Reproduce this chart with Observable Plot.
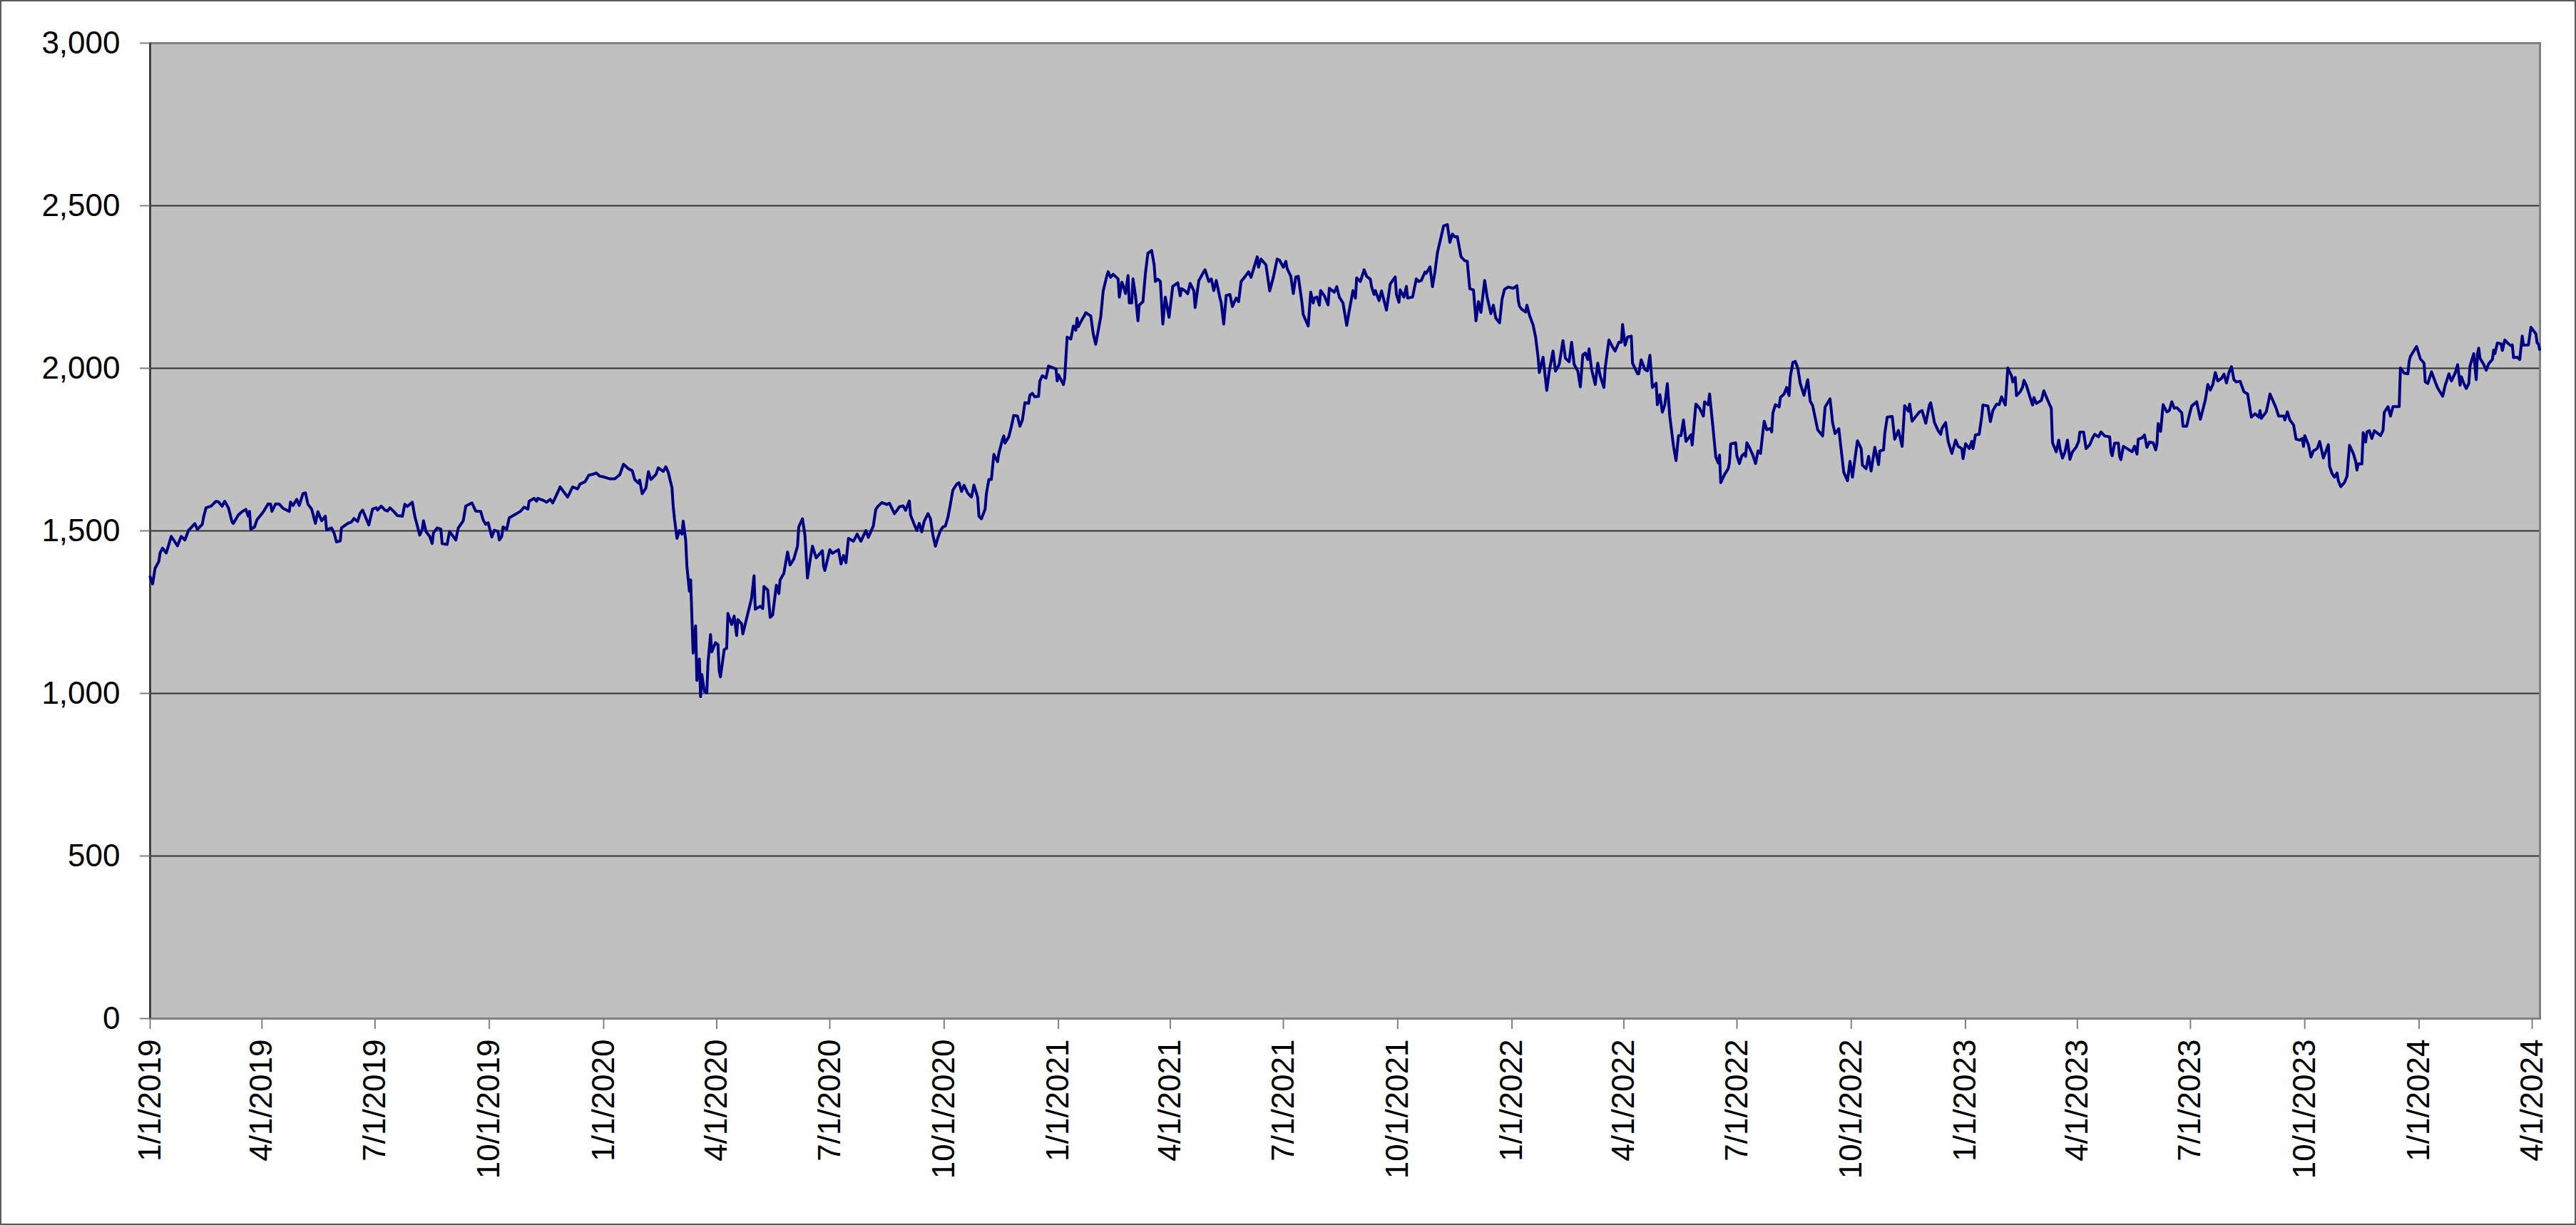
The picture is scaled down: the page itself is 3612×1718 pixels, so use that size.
<!DOCTYPE html>
<html>
<head>
<meta charset="utf-8">
<script src="https://cdn.jsdelivr.net/npm/d3@7"></script>
<script src="https://cdn.jsdelivr.net/npm/@observablehq/plot@0.6"></script>
<style>
  html, body { margin: 0; padding: 0; background: white; }
  #chart svg { display: block; outline: 2px solid #5a5a5a; outline-offset: -2px; }
</style>
</head>
<body>
<div id="chart"></div>
<script>
// [day offset from 2019-01-01, index value]
const series2019 = [[0,1359],[2,1337],[4,1385],[7,1406],[8,1432],[10,1447],[13,1432],[17,1483],[22,1454],[25,1483],[28,1472],[31,1502],[36,1522],[38,1505],[42,1520],[43,1542],[45,1571],[49,1576],[53,1591],[55,1589],[58,1576],[60,1591],[63,1571],[66,1527],[67,1523],[71,1549],[74,1559],[77,1566],[79,1545],[80,1560],[81,1505],[84,1512],[86,1534],[90,1553],[92,1564],[95,1583],[97,1582],[98,1560],[101,1583],[104,1582],[107,1569],[112,1560],[113,1589],[115,1578],[118,1597],[120,1578],[123,1615],[125,1617],[127,1582],[130,1567],[133,1523],[135,1559],[138,1531],[141,1545],[142,1503],[146,1509],[148,1494],[150,1466],[153,1469],[154,1509],[159,1523],[162,1527],[164,1538],[167,1529],[169,1554],[171,1564],[176,1518],[179,1567],[182,1571],[183,1564],[186,1576],[189,1564],[191,1561],[193,1571],[196,1560],[199,1547],[203,1545],[205,1582],[207,1575],[211,1588],[213,1545],[217,1487],[219,1505],[220,1531],[222,1498],[225,1483],[227,1461],[228,1494],[231,1509],[234,1505],[235,1461],[239,1458],[241,1498],[246,1472],[248,1509],[252,1531],[254,1576],[259,1586],[262,1561],[266,1560],[268,1534],[270,1520],[272,1525],[275,1481],[277,1502],[280,1498],[281,1472],[283,1483],[284,1512],[287,1505],[289,1540],[294,1551],[298,1560],[301,1573],[304,1567],[305,1591],[309,1600],[311,1591],[312,1600],[317,1593],[319,1588],[322,1597],[324,1586],[328,1618],[330,1635],[336,1604],[340,1635],[344,1629],[346,1644],[350,1651],[353,1671],[357,1675],[359,1678],[362,1668]];
const series2020 = [[365,1666],[370,1660],[374,1660],[378,1673],[381,1705],[385,1691],[388,1685],[390,1658],[393,1647],[394,1656],[396,1614],[399,1632],[401,1682],[403,1658],[407,1673],[409,1694],[413,1683],[415,1697],[417,1680],[420,1632],[421,1574],[422,1537],[424,1477],[426,1501],[428,1490],[429,1530],[431,1472],[432,1391],[434,1314],[435,1349],[437,1124],[439,1208],[440,1040],[442,1106],[443,990],[444,1058],[446,1007],[448,1002],[449,1095],[451,1181],[452,1128],[455,1156],[457,1150],[458,1069],[459,1051],[462,1135],[464,1139],[465,1246],[468,1212],[470,1238],[472,1178],[473,1227],[476,1214],[477,1183],[480,1230],[484,1292],[486,1362],[487,1259],[491,1268],[493,1261],[494,1329],[497,1318],[499,1234],[501,1241],[504,1333],[506,1307],[507,1349],[510,1369],[513,1435],[515,1395],[518,1413],[521,1453],[522,1512],[525,1537],[527,1486],[529,1355],[531,1406],[533,1453],[536,1417],[541,1439],[542,1391],[543,1378],[547,1442],[549,1431],[554,1442],[556,1398],[558,1424],[560,1402],[562,1477],[566,1468],[569,1490],[572,1468],[576,1501],[578,1480],[582,1515],[584,1566],[586,1577],[589,1587],[593,1581],[595,1585],[599,1553],[601,1563],[603,1574],[606,1577],[608,1563],[611,1592],[612,1548],[615,1519],[617,1501],[619,1523],[621,1497],[623,1530],[626,1553],[628,1537],[630,1486],[632,1453],[634,1479],[636,1501],[638,1512],[640,1515],[642,1541],[644,1581],[646,1625],[649,1643],[651,1648],[653,1621],[655,1640],[658,1616],[661,1604],[663,1641],[666,1603],[667,1545],[669,1537],[672,1567],[673,1614],[675,1658],[677,1658],[679,1735],[682,1713],[683,1738],[686,1782],[687,1792],[688,1770],[691,1789],[693,1819],[695,1855],[698,1853],[700,1822],[702,1841],[704,1894],[707,1892],[708,1917],[710,1923],[712,1912],[715,1914],[716,1961],[718,1977],[721,1970],[723,2007],[727,2001],[729,1998],[730,1961]];
const series2021 = [[731,1980],[735,1950],[736,1969],[738,2096],[741,2090],[743,2130],[745,2117],[746,2154],[747,2128],[750,2150],[752,2163],[753,2171],[757,2161],[759,2106],[761,2074],[765,2157],[767,2238],[770,2285],[771,2297],[773,2280],[775,2289],[779,2275],[780,2219],[782,2265],[783,2256],[785,2230],[787,2285],[788,2201],[790,2201],[791,2275],[793,2223],[795,2146],[796,2194],[799,2205],[801,2292],[803,2354],[806,2362],[808,2319],[809,2267],[811,2274],[813,2267],[815,2136],[817,2219],[820,2157],[823,2252],[827,2263],[829,2223],[830,2245],[833,2238],[835,2229],[837,2261],[840,2238],[841,2187],[844,2270],[848,2297],[849,2303],[852,2267],[854,2275],[856,2239],[858,2270],[861,2216],[862,2201],[864,2136],[866,2224],[869,2227],[871,2190],[874,2216],[876,2205],[878,2267],[881,2281],[884,2297],[886,2280],[891,2343],[892,2311],[894,2336],[898,2318],[901,2238],[904,2281],[907,2336],[909,2332],[912,2311],[914,2329],[915,2307],[918,2283],[920,2230],[922,2281],[924,2283],[927,2201],[928,2165],[932,2130],[934,2234],[936,2201],[937,2216],[939,2219],[941,2194],[942,2239],[945,2223],[948,2195],[949,2246],[953,2234],[955,2251],[957,2219],[960,2201],[963,2132],[965,2176],[968,2239],[970,2216],[971,2278],[974,2267],[977,2303],[979,2283],[982,2274],[983,2251],[985,2227],[986,2239],[989,2208],[991,2238],[995,2179],[998,2259],[1002,2281],[1003,2227],[1005,2203],[1006,2241],[1009,2219],[1011,2252],[1012,2216],[1016,2219],[1019,2275],[1021,2267],[1023,2270],[1026,2296],[1027,2292],[1030,2312],[1032,2251],[1034,2296],[1036,2356],[1039,2405],[1041,2438],[1044,2442],[1046,2387],[1048,2413],[1050,2404],[1052,2405],[1055,2343],[1058,2331],[1060,2329],[1062,2245],[1065,2241],[1067,2146],[1069,2205],[1071,2172],[1074,2270],[1076,2219],[1079,2168],[1081,2194],[1083,2154]];
const series2022 = [[1086,2140],[1088,2213],[1090,2243],[1093,2250],[1097,2246],[1100,2254],[1101,2210],[1102,2191],[1104,2181],[1107,2173],[1108,2194],[1110,2164],[1113,2133],[1115,2096],[1117,2034],[1118,1987],[1121,2034],[1124,1932],[1126,1991],[1129,2053],[1131,1991],[1134,2012],[1137,2085],[1139,2031],[1142,2020],[1144,2080],[1146,2012],[1149,1991],[1151,1943],[1153,2042],[1155,2047],[1157,2027],[1158,2060],[1160,1998],[1163,1950],[1165,2016],[1167,1976],[1170,1941],[1171,2001],[1174,2087],[1177,2065],[1179,2053],[1182,2080],[1184,2080],[1185,2135],[1187,2071],[1189,2096],[1192,2099],[1193,2016],[1197,1983],[1198,1983],[1200,2026],[1203,1996],[1205,1992],[1207,2040],[1209,1941],[1212,1954],[1213,1888],[1215,1919],[1217,1865],[1219,1888],[1221,1953],[1223,1852],[1226,1760],[1228,1716],[1230,1793],[1232,1793],[1234,1841],[1236,1775],[1240,1795],[1241,1764],[1244,1890],[1247,1877],[1250,1853],[1251,1897],[1254,1888],[1255,1921],[1258,1808],[1260,1727],[1262,1709],[1263,1733],[1264,1648],[1267,1673],[1270,1691],[1271,1709],[1272,1767],[1276,1771],[1277,1731],[1279,1707],[1281,1731],[1283,1738],[1284,1729],[1285,1771],[1287,1757],[1290,1731],[1292,1707],[1294,1746],[1296,1738],[1298,1808],[1299,1837],[1301,1811],[1304,1815],[1305,1804],[1306,1863],[1308,1888],[1311,1881],[1312,1910],[1315,1921],[1317,1941],[1319,1916],[1320,1974],[1322,2018],[1324,2021],[1326,2001],[1328,1953],[1331,1917],[1334,1965],[1336,1899],[1338,1885],[1340,1848],[1342,1811],[1346,1792],[1348,1881],[1352,1906],[1354,1833],[1356,1799],[1359,1814],[1363,1680],[1366,1654],[1368,1714],[1370,1665],[1374,1777],[1377,1753],[1378,1702],[1381,1691],[1383,1729],[1385,1684],[1388,1757],[1391,1704],[1392,1746],[1395,1749],[1396,1800],[1398,1850],[1402,1852],[1404,1782],[1407,1809],[1410,1760],[1412,1885],[1415,1868],[1416,1890],[1418,1837],[1421,1852],[1424,1866],[1426,1870],[1429,1831],[1432,1888],[1433,1894],[1436,1833],[1439,1808],[1441,1797],[1442,1815],[1445,1833],[1447,1775],[1450,1738]];
const series2023 = [[1453,1779],[1455,1760],[1458,1753],[1459,1722],[1461,1768],[1464,1753],[1466,1775],[1467,1753],[1469,1795],[1472,1797],[1474,1852],[1475,1887],[1479,1884],[1481,1836],[1483,1870],[1486,1890],[1488,1888],[1490,1912],[1493,1887],[1495,2001],[1498,1977],[1499,1958],[1501,1972],[1502,1916],[1505,1928],[1507,1943],[1508,1963],[1510,1947],[1513,1910],[1515,1887],[1516,1910],[1518,1892],[1522,1901],[1524,1931],[1527,1903],[1530,1877],[1531,1771],[1534,1743],[1536,1779],[1537,1753],[1539,1724],[1541,1742],[1543,1779],[1545,1720],[1547,1743],[1550,1757],[1552,1775],[1553,1804],[1556,1804],[1558,1753],[1561,1765],[1563,1784],[1565,1797],[1568,1789],[1570,1804],[1573,1792],[1577,1789],[1578,1743],[1579,1731],[1581,1770],[1584,1770],[1585,1729],[1586,1719],[1588,1760],[1591,1753],[1593,1748],[1595,1743],[1597,1760],[1599,1736],[1600,1782],[1603,1786],[1605,1795],[1607,1757],[1609,1773],[1612,1771],[1614,1749],[1615,1765],[1616,1830],[1618,1806],[1620,1888],[1623,1866],[1625,1870],[1627,1897],[1629,1877],[1631,1879],[1635,1863],[1636,1822],[1639,1822],[1641,1855],[1643,1884],[1647,1897],[1650,1843],[1654,1903],[1656,1950],[1658,1933],[1660,1950],[1662,1987],[1664,1961],[1667,1969],[1669,1982],[1671,1955],[1673,1987],[1675,2005],[1677,1965],[1679,1958],[1682,1960],[1685,1928],[1688,1921],[1691,1850],[1694,1860],[1697,1850],[1698,1870],[1699,1846],[1703,1866],[1705,1901],[1706,1921],[1709,1895],[1711,1877],[1713,1853],[1717,1853],[1718,1841],[1720,1866],[1722,1841],[1725,1826],[1727,1782],[1730,1779],[1732,1784],[1733,1760],[1734,1793],[1737,1764],[1739,1727],[1741,1746],[1744,1753],[1746,1775],[1749,1724],[1753,1765],[1754,1698],[1756,1676],[1758,1665],[1760,1678],[1761,1654],[1763,1636],[1766,1649],[1768,1668],[1770,1763],[1773,1739],[1775,1713],[1776,1687],[1777,1706],[1780,1706],[1781,1802],[1783,1773],[1784,1804],[1786,1808],[1788,1784],[1790,1808],[1795,1793],[1797,1809],[1798,1865],[1801,1882],[1803,1853],[1805,1882],[1810,1882],[1811,2001],[1814,1985],[1817,1983],[1818,2021],[1819,2036],[1822,2055],[1824,2067]];
const series2024 = [[1827,2029],[1830,2016],[1831,1958],[1833,1953],[1836,1989],[1839,1958],[1841,1939],[1845,1914],[1847,1947],[1850,1983],[1852,1961],[1855,1985],[1857,2011],[1859,1948],[1860,1974],[1862,1953],[1864,1938],[1866,1953],[1867,2007],[1870,2045],[1872,1965],[1873,2045],[1874,2062],[1875,2031],[1878,2012],[1880,1994],[1882,2014],[1885,2027],[1886,2056],[1887,2045],[1889,2078],[1892,2075],[1893,2055],[1895,2087],[1898,2075],[1900,2069],[1901,2072],[1902,2033],[1905,2034],[1907,2027],[1909,2099],[1910,2071],[1914,2072],[1916,2126],[1917,2121],[1920,2106],[1921,2078],[1922,2075],[1923,2058]];

const yTicks = [0, 500, 1000, 1500, 2000, 2500, 3000];
const yGrid = [500, 1000, 1500, 2000, 2500];
const xTickDates = ["2019-01-01","2019-04-01","2019-07-01","2019-10-01","2020-01-01","2020-04-01","2020-07-01","2020-10-01","2021-01-01","2021-04-01","2021-07-01","2021-10-01","2022-01-01","2022-04-01","2022-07-01","2022-10-01","2023-01-01","2023-04-01","2023-07-01","2023-10-01","2024-01-01","2024-04-01"];
const xStart = "2019-01-01";
const xEndDays = 1923.3;

const base = Date.UTC(2019, 0, 1);
const dayMs = 864e5;
const data = [...series2019, ...series2020, ...series2021, ...series2022, ...series2023, ...series2024]
  .map(([d, v]) => ({date: new Date(base + d * dayMs), value: v}));
const xTicks = xTickDates.map(s => new Date(s + "T00:00:00Z"));
const fmtDate = d => `${d.getUTCMonth() + 1}/${d.getUTCDate()}/${d.getUTCFullYear()}`;

const chart = Plot.plot({
  width: 3612,
  height: 1718,
  marginLeft: 210,
  marginRight: 51,
  marginTop: 60,
  marginBottom: 290,
  style: {fontFamily: "'Liberation Sans', Arial, sans-serif", background: "white", color: "black"},
  x: {type: "utc", domain: [new Date(xStart + "T00:00:00Z"), new Date(base + xEndDays * dayMs)]},
  y: {domain: [0, 3000]},
  marks: [
    Plot.frame({fill: "#c0c0c0", stroke: null}),
    Plot.ruleY(yGrid, {stroke: "#333333", strokeWidth: 2}),
    Plot.frame({stroke: "#808080", strokeWidth: 3}),
    Plot.ruleX([new Date(xStart + "T00:00:00Z")], {stroke: "#404040", strokeWidth: 3}),
    Plot.line(data, {x: "date", y: "value", stroke: "#000080", strokeWidth: 4, strokeLinejoin: "round"}),
    Plot.axisY({ticks: yTicks, tickSize: 14, tickPadding: 28, tickFormat: d3.format(","), fontSize: 44, stroke: "#808080", strokeWidth: 2, fill: "black", label: null}),
    Plot.axisX({ticks: xTicks, tickSize: 15, tickPadding: 14, tickRotate: -90, tickFormat: fmtDate, fontSize: 44, stroke: "#808080", strokeWidth: 2, fill: "black", label: null})
  ]
});
document.getElementById("chart").append(chart);
</script>
</body>
</html>
